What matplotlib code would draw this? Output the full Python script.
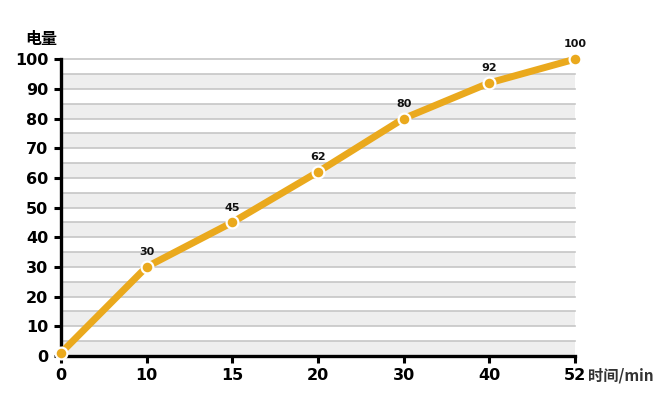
import matplotlib
matplotlib.use('Agg')
import matplotlib.pyplot as plt

plt.rcParams['font.family'] = ['DejaVu Sans', 'Noto Sans CJK SC']

times = ['0', '10', '15', '20', '30', '40', '52']  # min
charge = [1, 30, 45, 62, 80, 92, 100]
y_ticks = [0, 10, 20, 30, 40, 50, 60, 70, 80, 90, 100]

line_color = '#EAA91D'

fig = plt.figure(figsize=(6.7, 4.11), dpi=100)
ax = fig.add_axes([0.091, 0.134, 0.767, 0.722])

xs = list(range(len(times)))
ax.set_xlim(0, len(times) - 1)
ax.set_ylim(0, 100)

# alternating bands every 5 units with grey rules
for i in range(20):
    lo = i * 5
    if i % 2 == 0:
        ax.axhspan(lo, lo + 5, color='#eeeeee', zorder=0, lw=0)
    ax.axhline(lo + 5, color='#c6c6c6', lw=1.2, zorder=1, clip_on=False)

ax.plot(xs, charge, color=line_color, lw=5, zorder=3, solid_capstyle='round',
        marker='o', markersize=8.5, markerfacecolor=line_color,
        markeredgecolor='white', markeredgewidth=1.6, clip_on=False)

for x, v in zip(xs[1:], charge[1:]):
    ax.annotate(str(v), (x, v), xytext=(0, 7), textcoords='offset points',
                ha='center', va='bottom', fontsize=8, fontweight='bold', color='#111111')

ax.set_xticks(xs)
ax.set_xticklabels(times)
ax.set_yticks(y_ticks)
ax.tick_params(axis='both', direction='out', length=5, width=2.2, labelsize=11.5, pad=4)
for lab in ax.get_xticklabels() + ax.get_yticklabels():
    lab.set_fontweight('bold')

for side in ['top', 'right']:
    ax.spines[side].set_visible(False)
for side in ['left', 'bottom']:
    ax.spines[side].set_linewidth(2.4)

fig.text(0.037, 0.885, '电量', fontsize=11.5, fontweight='bold',
         family=['Noto Sans CJK SC', 'DejaVu Sans'], ha='left', va='bottom')
fig.text(0.878, 0.087, '时间/min', fontsize=11, fontweight='bold', color='#333333',
         family=['Noto Sans CJK SC', 'DejaVu Sans'], ha='left', va='center')

plt.savefig('out.png', dpi=100)
